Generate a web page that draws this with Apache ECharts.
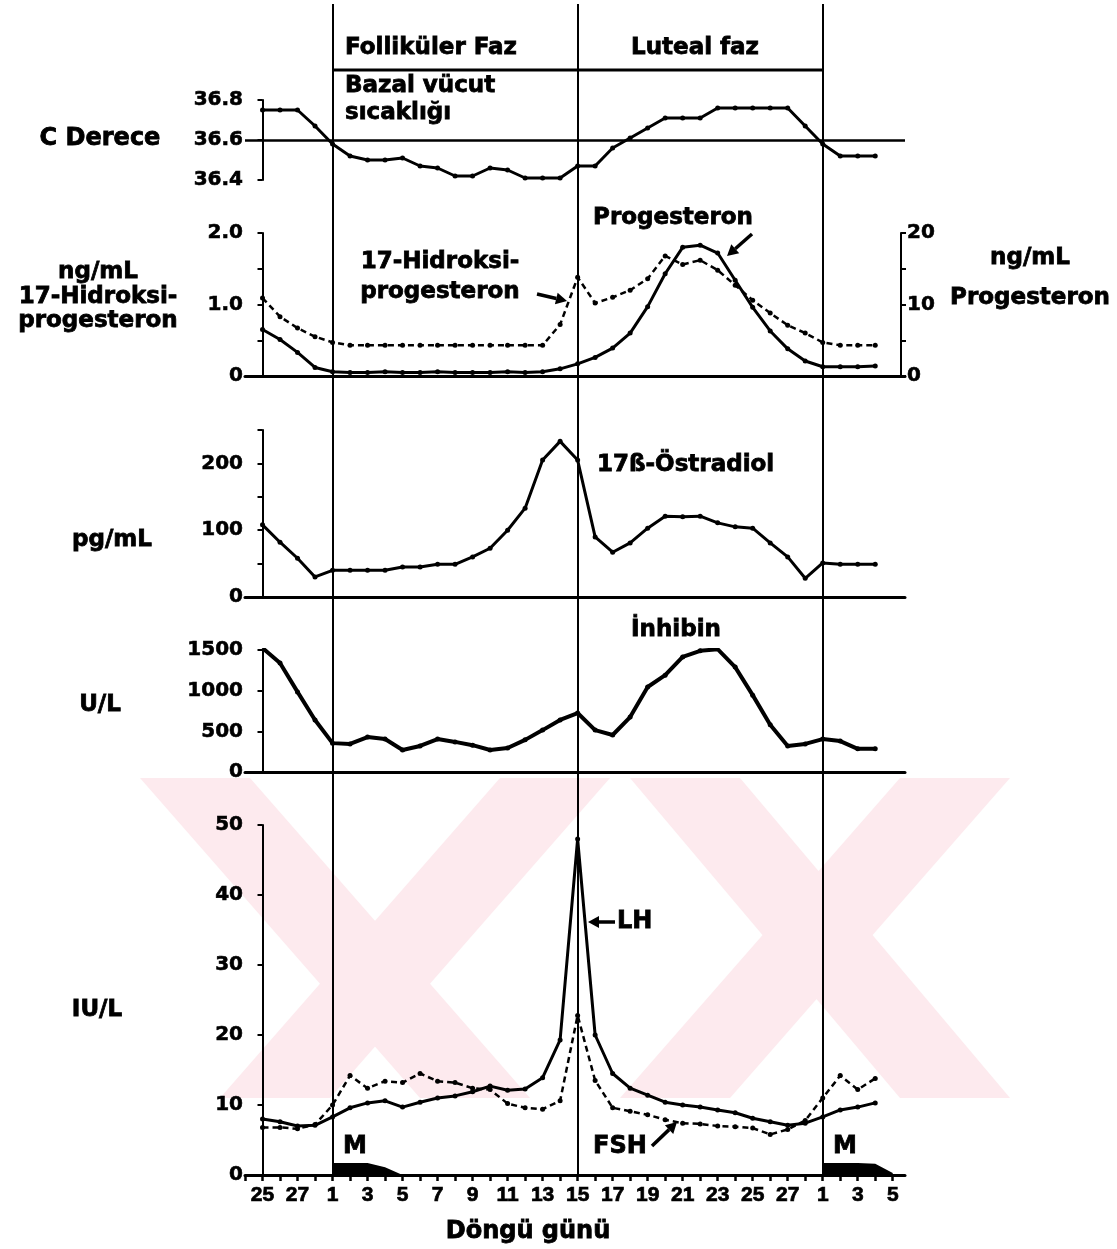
<!DOCTYPE html>
<html><head><meta charset="utf-8">
<script src="https://cdn.jsdelivr.net/npm/echarts@6/dist/echarts.min.js"></script>
<style>html,body{margin:0;padding:0;background:#fff}#c{width:1117px;height:1249px}</style>
</head><body><div id="c"></div>
<script>
// ---- DATA ----
const dayLabels = ['25','26','27','28','1','2','3','4','5','6','7','8','9','10','11','12','13','14','15','16','17','18','19','20','21','22','23','24','25','26','27','28','1','2','3','4','5'];
const phaseIdx = [4, 18, 32];
const temperature = [36.75,36.75,36.75,36.67,36.58,36.52,36.50,36.50,36.51,36.47,36.46,36.42,36.42,36.46,36.45,36.41,36.41,36.41,36.47,36.47,36.56,36.61,36.66,36.71,36.71,36.71,36.76,36.76,36.76,36.76,36.76,36.67,36.58,36.52,36.52,36.52,null];
const progesterone = [6.5,5.1,3.3,1.2,0.6,0.5,0.5,0.6,0.5,0.5,0.6,0.5,0.5,0.5,0.6,0.5,0.6,1.0,1.7,2.6,3.9,6.0,9.7,14.3,18.0,18.3,17.2,13.4,9.6,6.3,3.8,2.1,1.3,1.3,1.3,1.4,null];
const hydroxyprogesterone = [1.09,0.83,0.67,0.55,0.47,0.43,0.43,0.43,0.43,0.43,0.43,0.43,0.43,0.43,0.43,0.43,0.43,0.72,1.38,1.02,1.10,1.20,1.36,1.68,1.56,1.62,1.48,1.27,1.06,0.88,0.71,0.60,0.47,0.43,0.43,0.43,null];
const estradiol = [108,82,58,30,40,40,40,40,45,45,49,49,60,73,100,133,205,233,205,90,67,81,103,121,120,121,111,105,103,81,60,28,51,49,49,49,null];
const inhibin = [1525,1340,985,640,355,345,430,405,270,320,405,370,330,270,295,395,515,640,725,515,455,675,1045,1190,1415,1490,1510,1290,945,580,320,345,405,380,285,285,null];
const lh = [8.0,7.6,7.0,7.1,8.3,9.6,10.3,10.6,9.7,10.4,11.0,11.3,11.9,12.7,12.1,12.3,13.9,19.3,48,20,14.5,12.4,11.4,10.4,10.0,9.7,9.3,8.9,8.1,7.6,7.1,7.4,8.3,9.3,9.7,10.3,null];
const fsh = [6.8,6.8,6.6,7.2,10.0,14.2,12.4,13.4,13.2,14.5,13.4,13.2,12.4,12.2,10.2,9.6,9.4,10.6,22.8,13.5,9.6,9.1,8.6,7.9,7.4,7.3,7.0,6.9,6.7,5.8,6.5,7.8,11.0,14.2,12.2,13.8,null];
const menses = [null,null,null,null,1.7,1.7,1.7,1.1,0,null,null,null,null,null,null,null,null,null,null,null,null,null,null,null,null,null,null,null,null,null,null,null,1.7,1.7,1.7,1.6,0.3];

// ---- helpers ----
const FONT = '"DejaVu Sans", "Liberation Sans", Arial, sans-serif';
const NFONT = '"Liberation Sans", Arial, sans-serif';
const BLK = '#000';
const pts = arr => arr.map((v, i) => [i, v == null ? '-' : v]);
const X_MIN = -1, X_MAX = 36.7;

function xAxisFor(gi, showLine) {
  return {type:'value', gridIndex:gi, min:X_MIN, max:X_MAX, interval:1,
    axisLine:{show:showLine, onZero:false, lineStyle:{color:BLK, width:3}},
    axisTick:{show:false}, axisLabel:{show:false}, splitLine:{show:false}};
}
function yAxisFor(gi, min, max, interval, fmt, pos) {
  return {type:'value', gridIndex:gi, min, max, interval, position:pos||'left',
    axisLine:{show:true, lineStyle:{color:BLK, width:2}},
    axisTick:{show:true, length:5, lineStyle:{color:BLK, width:2}},
    axisLabel:{color:BLK, fontFamily:FONT, fontWeight:'bold', fontSize:20, margin:2, formatter:fmt,
      textBorderColor:BLK, textBorderWidth:0.6},
    splitLine:{show:false}};
}
function lineSeries(data, xi, yi, dashed, extra) {
  return Object.assign({type:'line', xAxisIndex:xi, yAxisIndex:yi, data:pts(data),
    symbol:'circle', symbolSize:5, showSymbol:true, connectNulls:false, silent:true,
    itemStyle:{color:BLK}, lineStyle:{color:BLK, width: dashed ? 2.5 : 3, type: dashed ? [6,4] : 'solid'},
    z:5}, extra||{});
}
function txt(x, y, text, size, align) {
  return {type:'text', x, y, silent:true, z:20,
    style:{text, fill:BLK, stroke:BLK, lineWidth:0.8, font:'bold '+(size||23)+'px '+FONT,
      textAlign:align||'center', textVerticalAlign:'middle'}};
}
function arrow(x1, y1, x2, y2) {
  const a = Math.atan2(y2-y1, x2-x1), L = 11, W = 6;
  const bx = x2 - L*Math.cos(a), by = y2 - L*Math.sin(a);
  const px = -Math.sin(a)*W, py = Math.cos(a)*W;
  return [
    {type:'line', silent:true, z:20, shape:{x1, y1, x2:bx, y2:by}, style:{stroke:BLK, lineWidth:3.5}},
    {type:'polygon', silent:true, z:20, shape:{points:[[x2,y2],[bx+px,by+py],[bx-px,by-py]]}, style:{fill:BLK}}
  ];
}

const chart = echarts.init(document.getElementById('c'), null, {renderer:'canvas'});

const grids = [
  {left:245, width:660, top:100, height:80},
  {left:245, width:660, top:233, height:143},
  {left:245, width:660, top:430, height:167},
  {left:245, width:660, top:650, height:122},
  {left:245, width:660, top:825, height:350},
  {left:245, width:660, top:0, height:1175}
];

const xAxes = [xAxisFor(0,false), xAxisFor(1,true), xAxisFor(2,true), xAxisFor(3,true),
  {type:'value', gridIndex:4, min:X_MIN, max:X_MAX, interval:1,
   axisLine:{show:true, onZero:false, lineStyle:{color:BLK, width:3}},
   axisTick:{show:true, length:6, lineStyle:{color:BLK, width:2.5}},
   axisLabel:{color:BLK, fontFamily:NFONT, fontWeight:'bold', fontSize:21, margin:10, showMaxLabel:false,
     textBorderColor:BLK, textBorderWidth:0.7,
     formatter: v => (Number.isInteger(v) && v >= 0 && v % 2 === 0 && v < dayLabels.length) ? dayLabels[v] : ''},
   splitLine:{show:false}},
  {type:'value', gridIndex:5, min:X_MIN, max:X_MAX, show:false}
];

const yAxes = [
  yAxisFor(0, 36.4, 36.8, 0.2, v => v.toFixed(1)),
  yAxisFor(1, 0, 2, 0.5, v => v === 0 ? '0' : (Math.abs(v % 1) < 1e-9 ? v.toFixed(1) : '')),
  yAxisFor(1, 0, 20, 5, v => (v % 10 === 0 ? String(v) : ''), 'right'),
  yAxisFor(2, 0, 250, 50, v => (v % 100 === 0 ? String(v) : '')),
  yAxisFor(3, 0, 1500, 500, v => String(v)),
  yAxisFor(4, 0, 50, 10, v => String(v)),
  {type:'value', gridIndex:5, min:0, max:1175, inverse:true, show:false}
];
yAxes[2].offset = -4;
yAxes[2].axisLabel.margin = 6;

const series = [
  {type:'line', xAxisIndex:5, yAxisIndex:6, data:phaseIdx.map(i => [i, 70]), symbol:'none', silent:true,
   lineStyle:{color:BLK, width:3}, z:4,
   markLine:{silent:true, symbol:['none','none'], label:{show:false},
     lineStyle:{color:BLK, width:2, type:'solid'},
     data: phaseIdx.map(i => [{coord:[i, 4]}, {coord:[i, 1175]}])}},
  lineSeries(temperature, 0, 0, false, {markLine:{silent:true, symbol:['none','none'], label:{show:false},
     lineStyle:{color:BLK, width:2.5, type:'solid'}, data:[{yAxis:36.6}]}}),
  lineSeries(progesterone, 1, 2, false),
  lineSeries(hydroxyprogesterone, 1, 1, true),
  lineSeries(estradiol, 2, 3, false),
  lineSeries(inhibin, 3, 4, false, {lineStyle:{color:BLK, width:4}}),
  lineSeries(lh, 4, 5, false),
  lineSeries(fsh, 4, 5, true),
  {type:'line', xAxisIndex:4, yAxisIndex:5, data:pts(menses), symbol:'none', silent:true, connectNulls:false,
   lineStyle:{width:0, color:BLK}, areaStyle:{color:BLK, opacity:1}, z:3}
];

const wm = '#fdeaee';
const watermark = [
  [[140,778],[250,778],[530,1098],[420,1098]],
  [[500,778],[610,778],[330,1098],[220,1098]],
  [[630,778],[740,778],[1010,1098],[900,1098]],
  [[900,778],[1010,778],[730,1098],[620,1098]]
].map(p => ({type:'polygon', silent:true, z:-10, shape:{points:p}, style:{fill:wm}}));

const graphics = watermark.concat([
  txt(345, 48, 'Folliküler Faz', 23, 'left'),
  txt(695, 48, 'Luteal faz', 23),
  txt(345, 86, 'Bazal vücut', 23, 'left'),
  txt(345, 113, 'sıcaklığı', 23, 'left'),
  txt(100, 139, 'C Derece', 24),
  txt(98, 272, 'ng/mL', 23),
  txt(98, 297, '17-Hidroksi-', 23),
  txt(98, 321, 'progesteron', 23),
  txt(1030, 258, 'ng/mL', 23),
  txt(1030, 298, 'Progesteron', 23),
  txt(673, 218, 'Progesteron', 23),
  txt(440, 262, '17-Hidroksi-', 23),
  txt(440, 292, 'progesteron', 23),
  txt(597, 465, '17ß-Östradiol', 23, 'left'),
  txt(112, 540, 'pg/mL', 23),
  txt(676, 630, 'İnhibin', 23),
  txt(100, 705, 'U/L', 23),
  txt(97, 1010, 'IU/L', 23),
  txt(617, 922, 'LH', 24, 'left'),
  txt(620, 1147, 'FSH', 24),
  txt(355, 1147, 'M', 24),
  txt(845, 1147, 'M', 24),
  txt(528, 1232, 'Döngü günü', 24)
]).concat(arrow(752, 234, 727, 256), arrow(537, 294, 567, 301), arrow(615, 922, 588, 922), arrow(652, 1146, 677, 1122));

chart.setOption({
  animation:false,
  backgroundColor:'#fff',
  grid:grids,
  xAxis:xAxes,
  yAxis:yAxes,
  series:series,
  graphic:{elements:graphics}
});
</script>
</body></html>
